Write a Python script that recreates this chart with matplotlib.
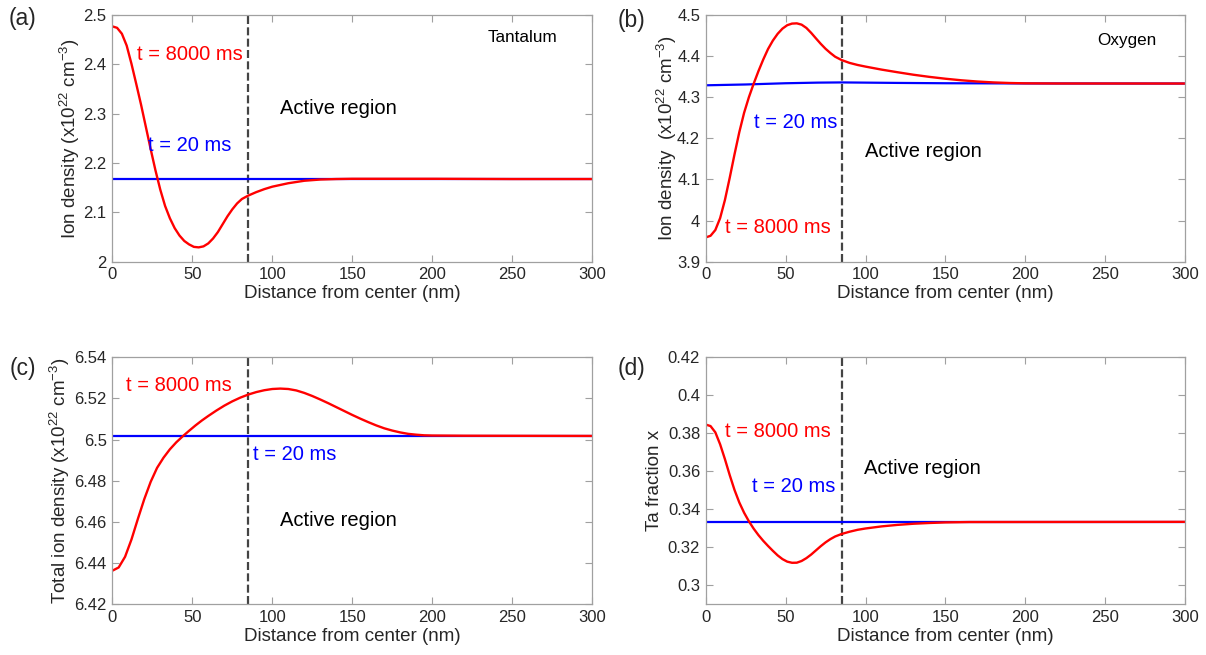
import matplotlib
matplotlib.use('Agg')
import matplotlib.pyplot as plt

plt.rcParams['font.family'] = ['Liberation Sans', 'DejaVu Sans']
plt.rcParams['mathtext.fontset'] = 'custom'
plt.rcParams['mathtext.rm'] = 'Liberation Sans'
plt.rcParams['mathtext.it'] = 'Liberation Sans:italic'
plt.rcParams['mathtext.default'] = 'regular'

# distance from center (nm)
x_a = [0, 3, 6, 9, 12, 15, 18, 21, 24, 27, 30, 33, 36, 39, 42, 45, 48, 51, 54, 57,
       60, 63, 66, 69, 72, 75, 78, 81, 85, 90, 95, 100, 110, 120, 130, 140, 150, 200, 250, 300]
# Tantalum, t = 8000 ms
ta_8000 = [2.477, 2.474, 2.462, 2.438, 2.401, 2.360, 2.318, 2.273, 2.228, 2.185, 2.146,
           2.113, 2.088, 2.068, 2.053, 2.042, 2.035, 2.030, 2.029, 2.031, 2.037, 2.047,
           2.060, 2.076, 2.092, 2.106, 2.118, 2.127, 2.134, 2.141, 2.147, 2.152, 2.159,
           2.164, 2.1665, 2.1675, 2.168, 2.168, 2.1675, 2.1675]
x_flat = [0, 300]
ta_20 = [2.1672, 2.1672]

x_b = [0, 3, 6, 9, 12, 15, 18, 21, 24, 27, 30, 33, 36, 39, 42, 45, 48, 51, 54, 57,
       60, 63, 66, 69, 72, 75, 78, 81, 85, 90, 95, 100, 110, 120, 130, 140, 150, 160,
       170, 180, 190, 200, 220, 300]
# Oxygen, t = 8000 ms
ox_8000 = [3.959, 3.963, 3.977, 4.006, 4.050, 4.104, 4.161, 4.215, 4.262, 4.300, 4.333,
           4.3636, 4.3918, 4.4173, 4.4377, 4.4542, 4.4668, 4.4752, 4.4791, 4.4797,
           4.4765, 4.4685, 4.4565, 4.4430, 4.4298, 4.4178, 4.4076, 4.3985, 4.3905,
           4.3835, 4.3785, 4.3745, 4.3672, 4.3608, 4.3547, 4.3495, 4.3450, 4.3412,
           4.3382, 4.3360, 4.3346, 4.3338, 4.3334, 4.3333]
x_ox20 = [0, 25, 50, 70, 85, 100, 120, 150, 200, 300]
ox_20 = [4.329, 4.331, 4.334, 4.3355, 4.336, 4.3355, 4.3348, 4.334, 4.3335, 4.3333]

x_c = [0, 4, 8, 12, 16, 20, 24, 28, 32, 36, 40, 44, 48, 52, 56, 60, 65, 70, 75, 80,
       85, 90, 95, 100, 105, 110, 115, 120, 125, 130, 135, 140, 145, 150, 155, 160, 165,
       170, 175, 180, 185, 190, 195, 200, 220, 300]
# Total ion density, t = 8000 ms
tot_8000 = [6.4363, 6.4379, 6.4431, 6.4515, 6.4615, 6.4711, 6.4795, 6.4863, 6.4912,
            6.4953, 6.4987, 6.5016, 6.5043, 6.5069, 6.5093, 6.5115, 6.5141, 6.5165,
            6.5186, 6.5204, 6.5219, 6.5231, 6.5240, 6.5246, 6.5248, 6.5246, 6.5239,
            6.5227, 6.5212, 6.5195, 6.5177, 6.5158, 6.5139, 6.5120, 6.5102, 6.5085,
            6.5069, 6.5055, 6.5044, 6.5035, 6.5028, 6.5024, 6.5021, 6.5020, 6.5019, 6.5018]
tot_20 = [6.5018, 6.5018]

x_d = [0, 3, 6, 9, 12, 15, 18, 21, 24, 27, 30, 33, 36, 39, 42, 45, 48, 51, 54, 57,
       60, 63, 66, 69, 72, 75, 78, 81, 85, 90, 95, 100, 110, 120, 130, 140, 150, 165, 300]
# Ta fraction, t = 8000 ms
frac_8000 = [0.3846, 0.3838, 0.3805, 0.3742, 0.3664, 0.3580, 0.3502, 0.3436, 0.3382,
             0.3337, 0.3298, 0.3264, 0.3234, 0.3207, 0.31815, 0.31575, 0.3138, 0.31245,
             0.31185, 0.3119, 0.3128, 0.3143, 0.3162, 0.3184, 0.3206, 0.3226, 0.3243,
             0.3257, 0.3270, 0.3282, 0.3292, 0.3299, 0.3310, 0.3318, 0.3324, 0.3328,
             0.3331, 0.3333, 0.3334]
frac_20 = [0.3335, 0.3335]

x_active = 85
tick_col = '#262626'
edge_col = '#a0a0a0'

fig = plt.figure(figsize=(12.06, 6.55), dpi=100)
ax_a = fig.add_axes([0.0931, 0.6005, 0.3980, 0.3766])
ax_b = fig.add_axes([0.5852, 0.6005, 0.3974, 0.3766])
ax_c = fig.add_axes([0.0931, 0.0774, 0.3980, 0.3771])
ax_d = fig.add_axes([0.5852, 0.0774, 0.3974, 0.3771])


def style(ax, ylim, yticks, ylabel, label_x):
    ax.set_xlim(0, 300)
    ax.set_ylim(*ylim)
    ax.set_xticks(range(0, 301, 50))
    ax.set_yticks(yticks)
    ax.tick_params(direction='in', length=5, width=0.8, color=edge_col,
                   labelcolor=tick_col, labelsize=12, top=True, right=True, pad=4)
    for s in ax.spines.values():
        s.set_color(edge_col)
        s.set_linewidth(0.9)
    ax.set_xlabel('Distance from center (nm)', fontsize=13.5, color=tick_col, labelpad=2)
    ax.set_ylabel(ylabel, fontsize=13.5, color=tick_col, va='center')
    ax.yaxis.set_label_coords(label_x, 0.5)
    ax.axvline(x_active, color='#444444', lw=1.6, dashes=(3.6, 1.5), zorder=1)


ax_a.plot(x_flat, ta_20, color='#0000ff', lw=1.6)
ax_a.plot(x_a, ta_8000, color='#ff0000', lw=1.7)
style(ax_a, (2.0, 2.5), [2, 2.1, 2.2, 2.3, 2.4, 2.5],
      r'Ion density (x10$^{22}$ cm$^{-3}$)', -0.088)
ax_a.set_yticklabels(['2', '2.1', '2.2', '2.3', '2.4', '2.5'])
ax_a.text(15.4, 2.419, 't = 8000 ms', color='#ff0000', fontsize=14.5, va='center')
ax_a.text(22.4, 2.236, 't = 20 ms', color='#0000ff', fontsize=14.5, va='center')
ax_a.text(104.8, 2.311, 'Active region', color='black', fontsize=14.5, va='center')
ax_a.text(234.8, 2.455, 'Tantalum', color='black', fontsize=12.3, va='center')

ax_b.plot(x_ox20, ox_20, color='#0000ff', lw=1.6)
ax_b.plot(x_b, ox_8000, color='#ff0000', lw=1.7)
style(ax_b, (3.9, 4.5), [3.9, 4.0, 4.1, 4.2, 4.3, 4.4, 4.5],
      r'Ion density  (x10$^{22}$ cm$^{-3}$)', -0.081)
ax_b.set_yticklabels(['3.9', '4', '4.1', '4.2', '4.3', '4.4', '4.5'])
ax_b.text(12.1, 3.982, 't = 8000 ms', color='#ff0000', fontsize=14.5, va='center')
ax_b.text(30.4, 4.238, 't = 20 ms', color='#0000ff', fontsize=14.5, va='center')
ax_b.text(99.6, 4.167, 'Active region', color='black', fontsize=14.5, va='center')
ax_b.text(244.8, 4.439, 'Oxygen', color='black', fontsize=12.3, va='center')

ax_c.plot(x_flat, tot_20, color='#0000ff', lw=1.6)
ax_c.plot(x_c, tot_8000, color='#ff0000', lw=1.7)
style(ax_c, (6.42, 6.54), [6.42, 6.44, 6.46, 6.48, 6.50, 6.52, 6.54],
      r'Total ion density (x10$^{22}$ cm$^{-3}$)', -0.109)
ax_c.set_yticklabels(['6.42', '6.44', '6.46', '6.48', '6.5', '6.52', '6.54'])
ax_c.text(8.6, 6.5265, 't = 8000 ms', color='#ff0000', fontsize=14.5, va='center')
ax_c.text(87.7, 6.493, 't = 20 ms', color='#0000ff', fontsize=14.5, va='center')
ax_c.text(105, 6.4605, 'Active region', color='black', fontsize=14.5, va='center')

ax_d.plot(x_flat, frac_20, color='#0000ff', lw=1.6)
ax_d.plot(x_d, frac_8000, color='#ff0000', lw=1.7)
style(ax_d, (0.29, 0.42), [0.30, 0.32, 0.34, 0.36, 0.38, 0.40, 0.42],
      'Ta fraction x', -0.106)
ax_d.set_yticklabels(['0.3', '0.32', '0.34', '0.36', '0.38', '0.4', '0.42'])
ax_d.text(12.1, 0.3808, 't = 8000 ms', color='#ff0000', fontsize=14.5, va='center')
ax_d.text(28.9, 0.3518, 't = 20 ms', color='#0000ff', fontsize=14.5, va='center')
ax_d.text(99.1, 0.3615, 'Active region', color='black', fontsize=14.5, va='center')

# panel letters
for lbl, px, py in [('(a)', 23, 18), ('(b)', 632, 21), ('(c)', 23, 368), ('(d)', 632, 368)]:
    fig.text(px / 1206, 1 - py / 655, lbl, fontsize=16.5, color=tick_col,
             ha='center', va='center')

fig.savefig('out.png', dpi=100, facecolor='white')
